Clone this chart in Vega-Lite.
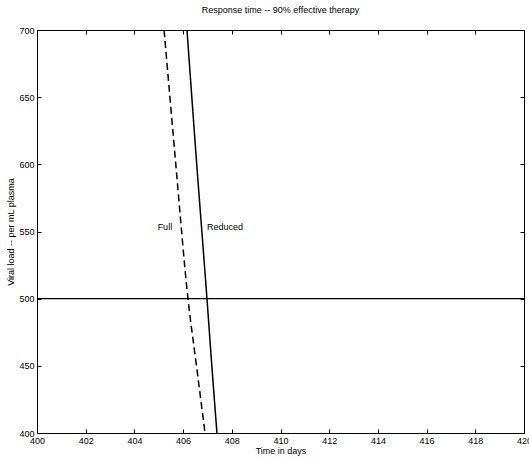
{
  "$schema": "https://vega.github.io/schema/vega-lite/v6.json",
  "width": 487,
  "height": 403,
  "autosize": {"type": "none"},
  "padding": {"left": 37, "top": 30, "right": 5, "bottom": 28},
  "background": "white",
  "config": {
    "font": "Liberation Sans",
    "view": {"stroke": "black", "strokeWidth": 1},
    "axis": {
      "domain": false,
      "grid": false,
      "tickColor": "black",
      "tickSize": -4,
      "labelColor": "black",
      "labelFontSize": 9,
      "labelFont": "Liberation Sans",
      "titleFont": "Liberation Sans",
      "titleFontSize": 9,
      "titleFontWeight": "normal",
      "titleColor": "black"
    }
  },
  "title": {
    "text": "Response time -- 90% effective therapy",
    "fontSize": 9,
    "fontWeight": "normal",
    "font": "Liberation Sans",
    "color": "black",
    "offset": 11
  },
  "datasets": {
    "curves": [
      {"day": 405.22, "load": 700, "regimen": "Full"},
      {"day": 405.7, "load": 600, "regimen": "Full"},
      {"day": 406.2, "load": 500, "regimen": "Full"},
      {"day": 406.55, "load": 450, "regimen": "Full"},
      {"day": 406.9, "load": 400, "regimen": "Full"},
      {"day": 406.16, "load": 700, "regimen": "Reduced"},
      {"day": 406.56, "load": 600, "regimen": "Reduced"},
      {"day": 406.98, "load": 500, "regimen": "Reduced"},
      {"day": 407.18, "load": 450, "regimen": "Reduced"},
      {"day": 407.39, "load": 400, "regimen": "Reduced"}
    ],
    "labels": [
      {"day": 405.55, "load": 553, "text": "Full", "align": "right"},
      {"day": 406.98, "load": 553, "text": "Reduced", "align": "left"}
    ],
    "threshold": [{"load": 500}],
    "frame": [{"day": 400, "load": 400}, {"day": 420, "load": 700}]
  },
  "layer": [
    {
      "data": {"name": "threshold"},
      "mark": {"type": "rule", "color": "black", "strokeWidth": 1.2},
      "encoding": {
        "y": {"field": "load", "type": "quantitative", "axis": null}
      }
    },
    {
      "data": {"name": "curves"},
      "mark": {"type": "line", "color": "black", "strokeWidth": 1.5, "clip": true, "interpolate": "monotone"},
      "encoding": {
        "x": {
          "field": "day", "type": "quantitative",
          "scale": {"domain": [400, 420], "nice": false, "zero": false},
          "axis": {"values": [400,402,404,406,408,410,412,414,416,418,420], "title": "Time in days", "labelPadding": 7, "titlePadding": 1, "labelFlush": false}
        },
        "y": {
          "field": "load", "type": "quantitative",
          "scale": {"domain": [400, 700], "nice": false, "zero": false},
          "axis": {"values": [400,450,500,550,600,650,700], "title": "Viral load -- per mL plasma", "labelPadding": 7, "titleX": -22}
        },
        "detail": {"field": "regimen"},
        "strokeDash": {
          "field": "regimen", "type": "nominal",
          "scale": {"domain": ["Full", "Reduced"], "range": [[7, 4], [1, 0]]},
          "legend": null
        }
      }
    },
    {
      "data": {"name": "labels"},
      "transform": [{"filter": "datum.align == 'right'"}],
      "mark": {"type": "text", "align": "right", "baseline": "middle", "fontSize": 9, "color": "black"},
      "encoding": {
        "x": {"field": "day", "type": "quantitative", "axis": null},
        "y": {"field": "load", "type": "quantitative", "axis": null},
        "text": {"field": "text"}
      }
    },
    {
      "data": {"name": "labels"},
      "transform": [{"filter": "datum.align == 'left'"}],
      "mark": {"type": "text", "align": "left", "baseline": "middle", "fontSize": 9, "color": "black"},
      "encoding": {
        "x": {"field": "day", "type": "quantitative", "axis": null},
        "y": {"field": "load", "type": "quantitative", "axis": null},
        "text": {"field": "text"}
      }
    },
    {
      "data": {"name": "frame"},
      "mark": {"type": "point", "opacity": 0},
      "encoding": {
        "x": {"field": "day", "type": "quantitative", "axis": {"orient": "top", "values": [400,402,404,406,408,410,412,414,416,418,420], "labels": false, "title": null}},
        "y": {"field": "load", "type": "quantitative", "axis": {"orient": "right", "values": [400,450,500,550,600,650,700], "labels": false, "title": null}}
      }
    }
  ],
  "resolve": {"axis": {"x": "independent", "y": "independent"}}
}
